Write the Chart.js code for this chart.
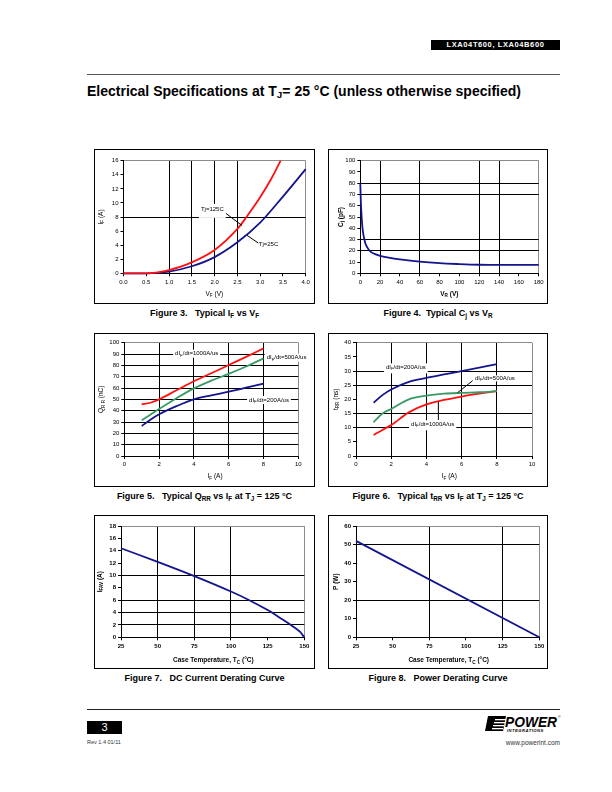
<!DOCTYPE html>
<html>
<head>
<meta charset="utf-8">
<script src="https://cdn.jsdelivr.net/npm/chart.js@4.4.1/dist/chart.umd.min.js"></script>
<style>
body { margin:0; width:612px; height:792px; position:relative; background:#fff; font-family:"Liberation Sans", Arial, sans-serif; color:#000; }
.abs { position:absolute; }
.box { position:absolute; border:1px solid #000; box-sizing:border-box; background:#fff; }
.box canvas { position:absolute; left:0; top:0; }
.cap { position:absolute; font-weight:bold; font-size:9px; line-height:10px; text-align:center; white-space:pre; }
.cap sub, .ttl sub { font-size:70%; vertical-align:-2px; line-height:0; }
.ttl { position:absolute; left:87px; top:83px; font-size:14px; font-weight:bold; white-space:pre; }
</style>
</head>
<body>

<div class="abs" style="left:431px;top:40px;width:129px;height:10px;background:#000;color:#fff;font-size:7.5px;font-weight:bold;line-height:10px;text-align:center;letter-spacing:0.6px;">LXA04T600, LXA04B600</div>
<div class="abs" style="left:87px;top:74px;width:473px;height:1px;background:#555;"></div>
<div class="ttl">Electrical Specifications at T<sub>J</sub>= 25 °C (unless otherwise specified)</div>

<div class="cap" style="left:94px;top:308px;width:221px;">Figure 3.   Typical I<sub>F</sub> vs V<sub>F</sub></div>
<div class="cap" style="left:328px;top:308px;width:220px;">Figure 4.  Typical C<sub>j</sub> vs V<sub>R</sub></div>
<div class="cap" style="left:94px;top:491px;width:221px;">Figure 5.   Typical Q<sub>RR</sub> vs I<sub>F</sub> at T<sub>J</sub> = 125 °C</div>
<div class="cap" style="left:328px;top:491px;width:220px;">Figure 6.   Typical t<sub>RR</sub> vs I<sub>F</sub> at T<sub>J</sub> = 125 °C</div>
<div class="cap" style="left:94px;top:673px;width:221px;">Figure 7.   DC Current Derating Curve</div>
<div class="cap" style="left:328px;top:673px;width:220px;">Figure 8.   Power Derating Curve</div>

<div class="abs" style="left:87px;top:709px;width:473px;height:1px;background:#222;"></div>
<div class="abs" style="left:87px;top:721px;width:35px;height:13px;background:#000;color:#fff;font-size:11px;line-height:13px;text-align:center;">3</div>
<div class="abs" style="left:87px;top:739px;font-size:5.5px;color:#333;">Rev 1.4 01/11</div>
<div class="abs" style="left:480px;top:739px;width:80px;text-align:right;font-size:6.5px;color:#333;">www.powerint.com</div>
<svg class="abs" style="left:484px;top:714px;" width="80" height="20">
  <polygon points="4,2 22,2 19,17 1,17" fill="#000"/>
  <rect x="11" y="5" width="11" height="1.3" fill="#fff"/>
  <rect x="10" y="8" width="11" height="1.3" fill="#fff"/>
  <rect x="9" y="11" width="11" height="1.3" fill="#fff"/>
  <rect x="8" y="14" width="11" height="1.3" fill="#fff"/>
  <text x="21" y="12.5" font-family="Liberation Sans, Arial" font-size="14" font-weight="bold" font-style="italic" fill="#000" textLength="52" lengthAdjust="spacingAndGlyphs">POWER</text>
  <text x="23" y="17.5" font-family="Liberation Sans, Arial" font-size="4.2" font-weight="bold" font-style="italic" fill="#000" letter-spacing="0.45">INTEGRATIONS</text>
  <text x="74" y="4" font-family="Liberation Sans, Arial" font-size="3.5" fill="#000">®</text>
</svg>

<script>
// ---- Figure 3: forward current vs forward voltage ----
var vf125 = [0, 0.5, 0.75, 1.0, 1.5, 2.0, 2.5, 2.7, 3.0, 3.25, 3.45];
var if125 = [0, 0, 0.12, 0.45, 1.55, 3.3, 6.3, 8.0, 10.8, 13.5, 16];
var vf25 = [0, 0.5, 1.0, 1.5, 2.0, 2.5, 3.0, 3.5, 4.0];
var if25 = [0, 0, 0.25, 1.0, 2.3, 4.4, 7.2, 10.9, 14.8];
var fig3XTicks = [0, 0.5, 1, 1.5, 2, 2.5, 3, 3.5, 4];
var fig3YTicks = [0, 2, 4, 6, 8, 10, 12, 14, 16];

// ---- Figure 4: junction capacitance vs reverse voltage ----
var vr = [0, 0.5, 1, 2, 3, 5, 7, 10, 15, 20, 30, 40, 60, 80, 100, 120, 140, 160, 180];
var cj = [80, 65, 55, 42, 35, 27, 23, 19.5, 17, 15.5, 13.6, 12.3, 10.3, 9, 8.2, 7.6, 7.4, 7.4, 7.4];
var fig4XTicks = [0, 20, 40, 60, 80, 100, 120, 140, 160, 180];
var fig4YTicks = [0, 10, 20, 30, 40, 50, 60, 70, 80, 90, 100];

// ---- Figures 5 and 6: recovery vs forward current ----
var ifRec = [1, 1.5, 2, 3, 4, 5, 6, 7, 8];
var qrr1000 = [45.5, 47, 50, 58, 66, 73, 80.3, 87.5, 95];
var qrr500 = [31.5, 36.5, 41.5, 51, 59.7, 66.5, 72.5, 79, 86.2];
var qrr200 = [26.5, 32, 36.8, 44, 50, 53.5, 56.8, 60.3, 63.8];
var trr200 = [18.8, 21.5, 23.5, 26.2, 27.6, 28.8, 30, 31.2, 32.4];
var trr500 = [11.9, 15, 16.6, 20, 21.3, 22, 22.3, 22.5, 22.9];
var trr1000 = [7.4, 9.2, 10.9, 15.4, 18.2, 19.8, 21, 22, 22.9];
var recXTicks = [0, 2, 4, 6, 8, 10];
var fig5YTicks = [0, 10, 20, 30, 40, 50, 60, 70, 80, 90, 100];
var fig6YTicks = [0, 5, 10, 15, 20, 25, 30, 35, 40];

// ---- Figures 7 and 8: derating ----
var tcDc = [25, 50, 75, 100, 112.5, 125, 135, 142, 147, 150];
var ifav = [14.4, 12.2, 9.9, 7.4, 6.0, 4.4, 2.9, 1.8, 0.9, 0];
var tcPow = [25, 150];
var powW = [52, 0];
var tcTicks = [25, 50, 75, 100, 125, 150];
var fig7YTicks = [0, 2, 4, 6, 8, 10, 12, 14, 16, 18];
var fig8YTicks = [0, 10, 20, 30, 40, 50, 60];

var FONT = '"Liberation Sans", Arial, sans-serif';
var NAVY = '#14148c';
var RED = '#ff1010';
var GREEN = '#3a9a66';

function pts(xs, ys) {
    return xs.map(function(x, i) { return { x: x, y: ys[i] }; });
}

function line(xs, ys, color) {
    return {
        data: pts(xs, ys),
        borderColor: color,
        borderWidth: 1.8,
        showLine: true,
        pointRadius: 0,
        cubicInterpolationMode: 'monotone',
        clip: false
    };
}

// draws text made of pieces, some of them subscript
function richText(ctx, parts, x, y, size, bold, align, rotate) {
    ctx.save();
    ctx.translate(x, y);
    if (rotate) ctx.rotate(-Math.PI / 2);
    ctx.textBaseline = 'middle';
    ctx.fillStyle = '#000';
    var w = 0;
    parts.forEach(function(p) {
        ctx.font = (bold ? 'bold ' : '') + (p[1] ? size * 0.72 : size) + 'px ' + FONT;
        w += ctx.measureText(p[0]).width;
    });
    var cx = align === 'left' ? 0 : -w / 2;
    parts.forEach(function(p) {
        ctx.font = (bold ? 'bold ' : '') + (p[1] ? size * 0.72 : size) + 'px ' + FONT;
        ctx.fillText(p[0], cx, p[1] ? size * 0.3 : 0);
        cx += ctx.measureText(p[0]).width;
    });
    ctx.restore();
    return w;
}

var extras = {
    id: 'extras',
    afterDatasetsDraw: function(chart) {
        var o = chart.options.plugins.extras;
        var ctx = chart.ctx, xs = chart.scales.x, ys = chart.scales.y;
        (o.leaders || []).forEach(function(l) {
            ctx.save();
            ctx.strokeStyle = '#000';
            ctx.lineWidth = 1;
            ctx.beginPath();
            ctx.moveTo(xs.getPixelForValue(l[0]), ys.getPixelForValue(l[1]));
            ctx.lineTo(xs.getPixelForValue(l[2]), ys.getPixelForValue(l[3]));
            ctx.stroke();
            ctx.restore();
        });
        (o.notes || []).forEach(function(n) {
            var px = xs.getPixelForValue(n.x), py = ys.getPixelForValue(n.y);
            ctx.save();
            var w = 0;
            n.parts.forEach(function(p) {
                ctx.font = (p[1] ? 6 * 0.72 : 6) + 'px ' + FONT;
                w += ctx.measureText(p[0]).width;
            });
            if (n.pad) {
                ctx.fillStyle = '#fff';
                ctx.fillRect(px - n.pad[0], py - n.pad[1], w + n.pad[0] + n.pad[2], n.pad[1] + n.pad[3]);
            }
            ctx.restore();
            richText(ctx, n.parts, px, py, 6, false, 'left', false);
        });
        var ox = o.origin[0], oy = o.origin[1];
        richText(ctx, o.xTitle.parts, o.xTitle.at[0] - ox, o.xTitle.at[1] - oy, o.titleSize, o.titleBold, 'center', false);
        richText(ctx, o.yTitle.parts, o.yTitle.at[0] - ox, o.yTitle.at[1] - oy, o.titleSize, o.titleBold, 'center', true);
    }
};

function gridColor(lines, max) {
    return function(c) {
        var v = c.tick ? c.tick.value : null;
        if (v === max) return '#8c8c8c';
        return lines.indexOf(v) >= 0 ? '#000' : 'rgba(0,0,0,0)';
    };
}

function axis(ticks, lines, fmt, bold, fixed) {
    var min = ticks[0], max = ticks[ticks.length - 1];
    return {
        type: 'linear',
        min: min,
        max: max,
        afterBuildTicks: function(s) { s.ticks = ticks.map(function(v) { return { value: v }; }); },
        afterFit: function(s) { if (s.isHorizontal()) s.height = fixed; else s.width = fixed; },
        ticks: {
            autoSkip: false,
            maxRotation: 0,
            padding: 2,
            color: '#000',
            font: { family: FONT, size: 6, weight: bold ? 'bold' : 'normal' },
            callback: function(v) { return fmt ? fmt(v) : String(v); }
        },
        grid: { color: gridColor(lines, max), lineWidth: 1, tickColor: '#000', tickLength: 3 },
        border: { color: '#000', width: 1 }
    };
}

function buildChart(cfg) {
    var f = cfg.frame, p = cfg.plot;
    var box = document.createElement('div');
    box.className = 'box';
    box.style.left = f[0] + 'px';
    box.style.top = f[1] + 'px';
    box.style.width = (f[2] - f[0]) + 'px';
    box.style.height = (f[3] - f[1]) + 'px';
    var cv = document.createElement('canvas');
    var w = f[2] - f[0] - 2, h = f[3] - f[1] - 2;
    cv.width = w; cv.height = h;
    cv.style.width = w + 'px'; cv.style.height = h + 'px';
    box.appendChild(cv);
    document.body.appendChild(box);

    new Chart(cv, {
        type: 'scatter',
        data: { datasets: cfg.datasets },
        options: {
            responsive: false,
            animation: false,
            events: [],
            layout: { padding: { top: p[1] - f[1] - 1, right: f[2] - p[2] - 1, left: 0, bottom: 0 } },
            scales: {
                x: axis(cfg.xTicks, cfg.xLines, cfg.xFmt, cfg.boldTicks, f[3] - p[3] - 1),
                y: axis(cfg.yTicks, cfg.yLines, null, cfg.boldTicks, p[0] - f[0] - 1)
            },
            plugins: {
                legend: { display: false },
                tooltip: { enabled: false },
                extras: {
                    origin: [f[0] + 1, f[1] + 1],
                    notes: cfg.notes,
                    leaders: cfg.leaders,
                    xTitle: cfg.xTitle,
                    yTitle: cfg.yTitle,
                    titleSize: cfg.titleSize || 6.5,
                    titleBold: cfg.titleBold
                }
            }
        },
        plugins: [extras]
    });
}

buildChart({
    frame: [94, 149, 315, 304],
    plot: [123.5, 160.7, 305.7, 273.3],
    datasets: [line(vf125, if125, RED), line(vf25, if25, NAVY)],
    xTicks: fig3XTicks, xLines: [1, 1.5, 2, 2.5],
    xFmt: function(v) { return v.toFixed(1); },
    yTicks: fig3YTicks, yLines: [8],
    notes: [
        { x: 1.7, y: 9.15, parts: [['Tj=125C']], pad: [2, 5, 2, 9] },
        { x: 2.97, y: 4.1, parts: [['Tj=25C']] }
    ],
    leaders: [[2.24, 8.55, 2.6, 6.8], [2.71, 5.4, 2.96, 4.3]],
    xTitle: { parts: [['V'], ['F', 1], [' (V)']], at: [214.3, 294] },
    yTitle: { parts: [['I'], ['F', 1], [' (A)']], at: [101, 217] }
});

buildChart({
    frame: [328, 149, 548, 304],
    plot: [360.3, 160.7, 538.7, 273.3],
    datasets: [line(vr, cj, NAVY)],
    xTicks: fig4XTicks, xLines: [20, 60, 120, 140],
    yTicks: fig4YTicks, yLines: [20, 30, 70, 80],
    titleBold: true,
    xTitle: { parts: [['V'], ['R', 1], [' (V)']], at: [449.3, 294] },
    yTitle: { parts: [['C'], ['j', 1], [' (pF)']], at: [341, 217] }
});

buildChart({
    frame: [94, 333, 315, 487],
    plot: [124.3, 342.7, 298.3, 456],
    datasets: [line(ifRec, qrr1000, RED), line(ifRec, qrr500, GREEN), line(ifRec, qrr200, NAVY)],
    xTicks: recXTicks, xLines: [2, 4, 6, 8],
    yTicks: fig5YTicks, yLines: [10, 20, 30, 40, 50, 60, 70, 80, 90],
    notes: [
        { x: 2.92, y: 90.3, parts: [['dI'], ['F', 1], ['/dt=1000A/us']], pad: [2, 4, 2, 4] },
        { x: 8.18, y: 86.8, parts: [['dI'], ['F', 1], ['/dt=500A/us']], pad: [2, 4, 2, 4] },
        { x: 7.17, y: 49.4, parts: [['dI'], ['F', 1], ['/dt=200A/us']], pad: [2, 4, 2, 4] }
    ],
    xTitle: { parts: [['I'], ['F', 1], [' (A)']], at: [215, 476.7] },
    yTitle: { parts: [['Q'], ['R R', 1], [' (nC)']], at: [101.7, 399.3] }
});

buildChart({
    frame: [328, 333, 548, 487],
    plot: [356, 342.7, 532, 456],
    datasets: [line(ifRec, trr200, NAVY), line(ifRec, trr500, GREEN), line(ifRec, trr1000, RED)],
    xTicks: recXTicks, xLines: [2, 4, 6, 8],
    yTicks: fig6YTicks, yLines: [10, 15, 25, 30],
    notes: [
        { x: 1.7, y: 31.3, parts: [['dI'], ['F', 1], ['/dt=200A/us']], pad: [2, 4, 2, 6] },
        { x: 6.76, y: 27.4, parts: [['dI'], ['F', 1], ['/dt=500A/us']], pad: [2, 3, 2, 3] },
        { x: 3.13, y: 11.2, parts: [['dI'], ['F', 1], ['/dt=1000A/us']], pad: [2, 4, 2, 6] }
    ],
    leaders: [[6.63, 26.6, 5.78, 22.4], [4.68, 19.2, 4.68, 12.7]],
    xTitle: { parts: [['I'], ['F', 1], [' (A)']], at: [449.3, 476.7] },
    yTitle: { parts: [['t'], ['RR', 1], [' (ns)']], at: [336, 399.3] }
});

buildChart({
    frame: [94, 515, 315, 669],
    plot: [121, 526, 304.3, 637.3],
    datasets: [line(tcDc, ifav, NAVY)],
    xTicks: tcTicks, xLines: [50, 75, 100],
    yTicks: fig7YTicks, yLines: [2, 4, 6, 10],
    boldTicks: true, titleBold: true,
    xTitle: { parts: [['Case Temperature, T'], ['C', 1], [' (°C)']], at: [213.3, 660.7] },
    yTitle: { parts: [['I'], ['FAV', 1], [' (A)']], at: [100, 581.7] }
});

buildChart({
    frame: [328, 515, 548, 669],
    plot: [356, 526, 539.3, 637.3],
    datasets: [line(tcPow, powW, NAVY)],
    xTicks: tcTicks, xLines: [75, 125],
    yTicks: fig8YTicks, yLines: [20, 50],
    boldTicks: true, titleBold: true,
    xTitle: { parts: [['Case Temperature, T'], ['C', 1], [' (°C)']], at: [448.7, 660.7] },
    yTitle: { parts: [['P (W)']], at: [336, 581.7] }
});
</script>
</body>
</html>
